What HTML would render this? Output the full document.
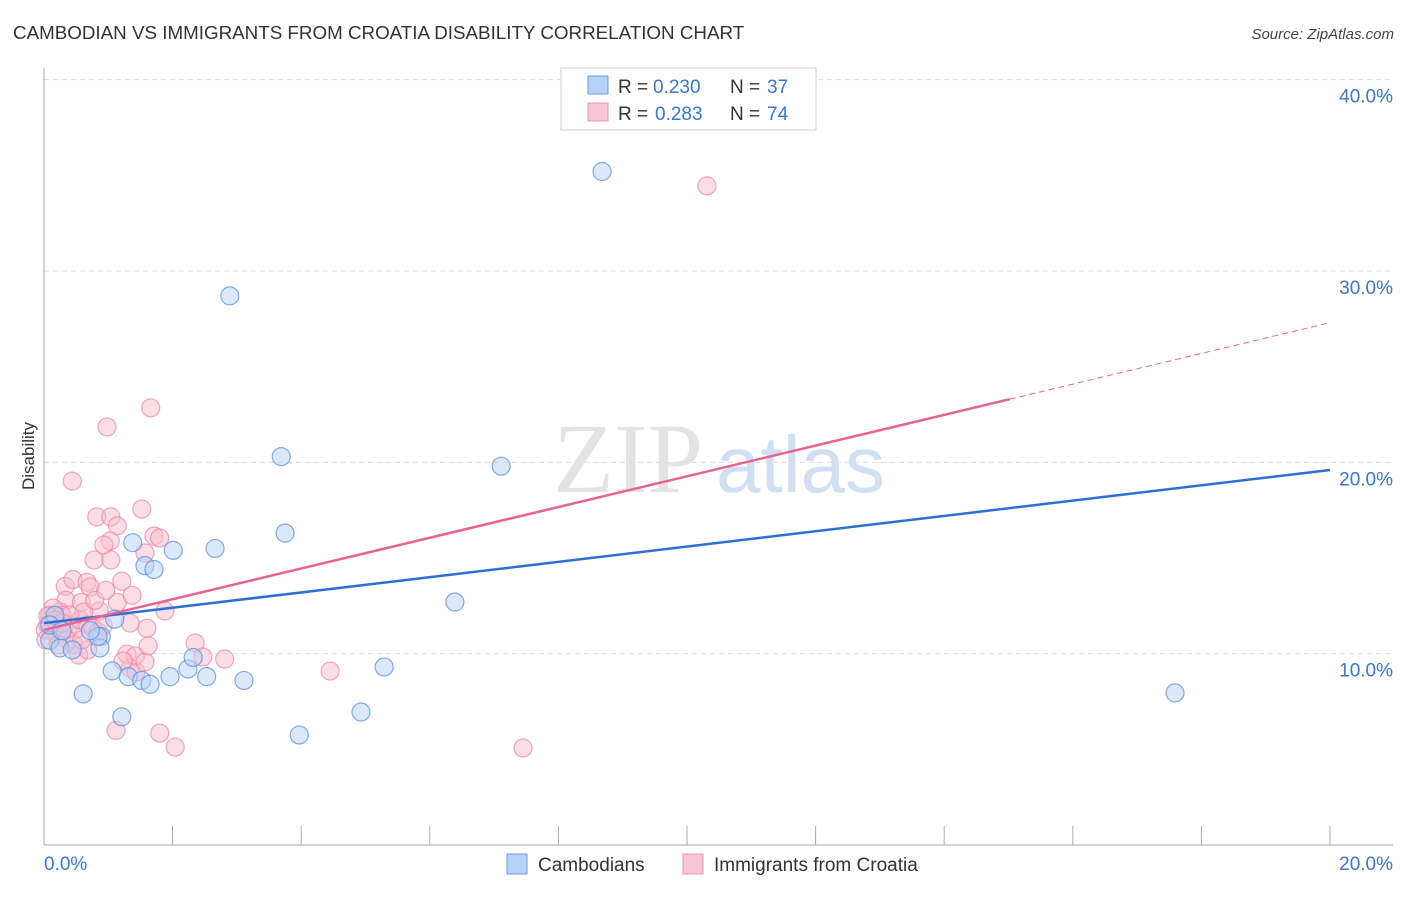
<!DOCTYPE html>
<html><head><meta charset="utf-8"><style>
body{margin:0;background:#fff;font-family:"Liberation Sans",sans-serif}
</style></head><body>
<svg id="chart" width="1406" height="892" xmlns="http://www.w3.org/2000/svg" font-family="Liberation Sans, sans-serif">
<text x="13" y="39" font-size="18.8" fill="#333">CAMBODIAN VS IMMIGRANTS FROM CROATIA DISABILITY CORRELATION CHART</text>
<text x="1394" y="39" font-size="15" fill="#444" text-anchor="end" font-style="italic">Source: ZipAtlas.com</text>
<text x="553" y="492" font-size="100" fill="#ddd" font-family="Liberation Serif, serif" opacity="0.8">ZIP</text>
<text x="716" y="492" font-size="80" fill="#c5d8ef" opacity="0.8">atlas</text>
<g id="grid"></g>
<g id="axes"></g>
<text transform="translate(34,456) rotate(-90)" font-size="17" fill="#333" text-anchor="middle">Disability</text>
<g id="marks"></g>
<g id="lines"></g>
<g>
<rect x="561" y="68" width="255" height="62" fill="#fff" stroke="#ccc"/>
<rect x="588" y="76" width="20" height="18" fill="#b8d2f5" stroke="#6a9be0"/>
<rect x="588" y="103" width="20" height="18" fill="#f8c6d5" stroke="#eb94b0"/>
<text x="618" y="93" font-size="19" fill="#333">R =</text>
<text x="653" y="93" font-size="19" fill="#3a75d0">0.230</text>
<text x="730" y="93" font-size="19" fill="#333">N =</text>
<text x="767" y="93" font-size="19" fill="#3a75d0">37</text>
<text x="618" y="120" font-size="19" fill="#333">R =</text>
<text x="655" y="120" font-size="19" fill="#3a75d0">0.283</text>
<text x="730" y="120" font-size="19" fill="#333">N =</text>
<text x="767" y="120" font-size="19" fill="#3a75d0">74</text>
</g>
<g>
<rect x="507" y="854" width="20" height="20" fill="#b8d2f5" stroke="#6a9be0"/>
<text x="538" y="871" font-size="19" fill="#333">Cambodians</text>
<rect x="683" y="854" width="20" height="20" fill="#f8c6d5" stroke="#eb94b0"/>
<text x="714" y="871" font-size="19" fill="#333">Immigrants from Croatia</text>
</g>
</svg>
<script>
const yTicks=[10,20,30,40];
const yTickLabels=["10.0%","20.0%","30.0%","40.0%"];
const xTickLabels=["0.0%","20.0%"];
const blueX=[8.68,2.89,3.69,7.11,3.75,2.66,2.01,1.38,1.57,1.71,6.39,1.10,0.89,0.17,0.09,0.25,0.44,0.87,0.84,1.06,0.61,1.21,1.31,1.52,1.65,1.96,2.24,2.32,2.53,3.11,3.97,4.93,5.29,17.59,0.09,0.72,0.28];
const blueY=[35.2,28.7,20.3,19.8,16.3,15.5,15.4,15.8,14.6,14.4,12.7,11.8,10.9,12.0,10.7,10.3,10.2,10.3,10.9,9.1,7.9,6.7,8.8,8.6,8.4,8.8,9.2,9.8,8.8,8.6,5.75,6.95,9.3,7.95,11.5,11.2,11.2];
const pinkX=[10.31,1.66,0.98,0.44,1.52,0.82,1.04,1.14,1.03,0.93,1.71,1.80,1.57,0.78,1.04,0.33,0.45,0.67,1.21,0.72,0.34,0.58,1.14,1.37,1.88,0.86,1.34,1.60,2.35,4.45,0.25,0.20,0.09,0.06,0.12,0.19,0.31,0.40,0.48,0.56,0.62,0.68,0.76,0.84,0.92,0.36,0.47,0.54,0.68,0.14,0.28,0.02,1.34,1.43,1.29,1.42,1.23,1.57,1.62,2.47,2.81,1.12,1.80,2.04,7.45,0.03,0.22,0.40,0.59,0.79,0.96,0.06,0.17,0.28];
const pinkY=[34.45,22.85,21.85,19.02,17.56,17.15,17.15,16.68,15.89,15.68,16.15,16.05,15.26,14.90,14.90,13.52,13.88,13.73,13.79,13.48,12.79,12.68,12.68,13.05,12.23,12.23,11.6,11.33,10.56,9.09,12.18,11.76,12.02,11.50,11.24,10.98,11.33,11.5,11.24,11.76,12.18,11.50,11.33,11.13,11.45,10.72,10.46,9.93,10.20,12.39,12.02,11.24,9.25,9.04,9.98,9.88,9.62,9.57,10.41,9.83,9.72,5.99,5.85,5.12,5.07,10.72,10.46,12.02,10.72,12.79,13.31,11.97,11.76,11.6];
const blueTrend=[11.6,19.6];
const pinkTrend=[11.24,27.3];
const pinkSolidEnd=15.02;
const NS="http://www.w3.org/2000/svg";
const X=v=>44+v*64.3, Y=v=>845-v*19.133;
function mk(t,a,p){const e=document.createElementNS(NS,t);for(const k in a)e.setAttribute(k,a[k]);p.appendChild(e);return e;}
const grid=document.getElementById('grid'),axes=document.getElementById('axes'),marks=document.getElementById('marks'),lines=document.getElementById('lines');
yTicks.forEach((t,i)=>{
 const g=mk('line',{x1:44,x2:1393,y1:Y(t),y2:Y(t),stroke:'#ddd','stroke-dasharray':'5,4'},grid);
 
 
 const l=mk('text',{x:1393,y:Y(t)+23,'font-size':19,fill:'#3a75d0','text-anchor':'end'},axes);
 l.textContent=yTickLabels[i];
 
 
});
const ax=mk('line',{x1:44,x2:1393,y1:845,y2:845,stroke:'#aaa'},axes);


const ay=mk('line',{x1:44,x2:44,y1:68,y2:845,stroke:'#aaa'},axes);


for(let i=0;i<=10;i++){const tk=mk('line',{x1:X(i*2),x2:X(i*2),y1:826,y2:845,stroke:'#aaa'},axes);
 
 }
[[0,'start',44],[20,'end',1393]].forEach((d,i)=>{const t=mk('text',{x:d[2],y:870,'font-size':19,fill:'#3a75d0','text-anchor':d[1]},axes);t.textContent=xTickLabels[i];
 
 });
function pts(xs,ys,fill,stroke,name){xs.forEach((x,i)=>{const c=mk('circle',{cx:X(x),cy:Y(ys[i]),r:9,fill:fill,'fill-opacity':0.5,stroke:stroke,'stroke-opacity':0.75,'stroke-width':1.2},marks);
 
 });}
pts(pinkX,pinkY,'#f8bccd','#eb8aa8','croatia-point');
pts(blueX,blueY,'#b8d2f5','#5b90dc','cambodian-point');
const bl=mk('line',{x1:X(0),y1:Y(blueTrend[0]),x2:X(20),y2:Y(blueTrend[1]),stroke:'#2b6fd6','stroke-width':2.5},lines);


const pe=pinkTrend[0]+(pinkTrend[1]-pinkTrend[0])*pinkSolidEnd/20;
const pl=mk('line',{x1:X(0),y1:Y(pinkTrend[0]),x2:X(pinkSolidEnd),y2:Y(pe),stroke:'#e8638f','stroke-width':2.5},lines);


const pd=mk('line',{x1:X(pinkSolidEnd),y1:Y(pe),x2:X(20),y2:Y(pinkTrend[1]),stroke:'#e8638f','stroke-width':1,'stroke-dasharray':'6,4'},lines);


</script>
</body></html>
